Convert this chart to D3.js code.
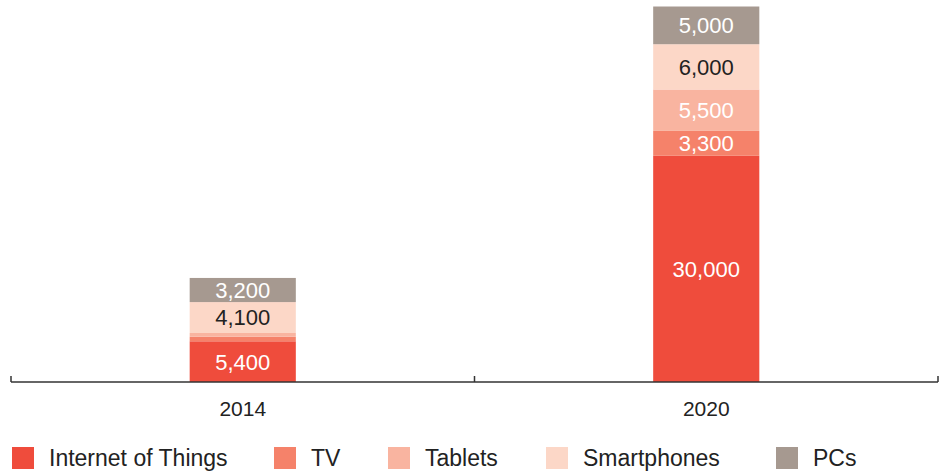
<!DOCTYPE html>
<html>
<head>
<meta charset="utf-8">
<script src="https://cdn.jsdelivr.net/npm/d3@7"></script>
<style>
  body { margin: 0; background: #fff; }
  svg { display: block; font-family: "Liberation Sans", Arial, sans-serif; }
</style>
</head>
<body>
<svg id="chart" width="949" height="475"></svg>
<script>
'use strict'

const years = ['2014', '2020']
const series = ['Internet of Things', 'TV', 'Tablets', 'Smartphones', 'PCs']
const iot = [5400, 30000]
const tv = [600, 3300]
const tablets = [500, 5500]
const smartphones = [4100, 6000]
const pcs = [3200, 5000]

const colors = ['#ef4c3c', '#f5826a', '#f9b4a0', '#fcd7c7', '#a69990']
const labelColors = ['#fff', '#fff', '#fff', '#222', '#fff']

const rows = years.map((y, i) => ({
  year: y,
  'Internet of Things': iot[i],
  'TV': tv[i],
  'Tablets': tablets[i],
  'Smartphones': smartphones[i],
  'PCs': pcs[i]
}))

const svg = d3.select('#chart')
const baseY = 382

const x = d3.scaleBand().domain(years).range([11, 938]).padding(0)
const barW = x.bandwidth() * 0.229
const y = d3.scaleLinear().domain([0, 50000]).range([baseY, 5])

const stack = d3.stack().keys(series)(rows)

const fmt = d3.format(',')

const layer = svg.selectAll('g.layer')
  .data(stack)
  .enter()
  .append('g')
  .attr('class', 'layer')

layer.selectAll('rect')
  .data((d) => d.map((v) => ({ v, key: d.key, i: d.index })))
  .enter()
  .append('rect')
  .attr('x', (d) => x(d.v.data.year) + x.bandwidth() / 2 - barW / 2)
  .attr('width', barW)
  .attr('y', (d) => y(d.v[1]))
  .attr('height', (d) => y(d.v[0]) - y(d.v[1]))
  .attr('fill', (d) => colors[d.i])

layer.selectAll('text')
  .data((d) => d.map((v) => ({ v, key: d.key, i: d.index })))
  .enter()
  .filter((d) => y(d.v[0]) - y(d.v[1]) > 15)
  .append('text')
  .attr('x', (d) => x(d.v.data.year) + x.bandwidth() / 2)
  .attr('y', (d) => (y(d.v[0]) + y(d.v[1])) / 2)
  .attr('dy', '0.36em')
  .attr('text-anchor', 'middle')
  .attr('font-size', 22)
  .attr('fill', (d) => labelColors[d.i])
  .text((d) => fmt(d.v[1] - d.v[0]))

// axis: baseline with ticks at the band edges
const axisG = svg.append('g').attr('transform', `translate(0,${baseY})`)
axisG.append('line')
  .attr('x1', 11).attr('x2', 938)
  .attr('stroke', '#333').attr('stroke-width', 1.5)
const edges = years.map((d) => x(d)).concat([x.range()[1]])
axisG.selectAll('line.tick')
  .data(edges)
  .enter()
  .append('line')
  .attr('class', 'tick')
  .attr('x1', (d) => d).attr('x2', (d) => d)
  .attr('y1', -6).attr('y2', 0)
  .attr('stroke', '#333').attr('stroke-width', 1.5)

const xAxis = svg.append('g')
  .attr('transform', `translate(0,${baseY})`)
  .call(d3.axisBottom(x).tickSize(0).tickPadding(19))
xAxis.select('.domain').remove()
xAxis.selectAll('text')
  .attr('font-size', 21)
  .attr('font-family', '"Liberation Sans", Arial, sans-serif')
  .attr('fill', '#222')

// legend
const legendX = [12, 274, 388, 546, 776]
const legend = svg.selectAll('g.legend')
  .data(series)
  .enter()
  .append('g')
  .attr('class', 'legend')
  .attr('transform', (d, i) => `translate(${legendX[i]},447)`)
legend.append('rect')
  .attr('width', 22).attr('height', 22)
  .attr('fill', (d, i) => colors[i])
legend.append('text')
  .attr('x', 37)
  .attr('y', 19)
  .attr('font-size', 23)
  .attr('fill', '#222')
  .text((d) => d)
</script>
</body>
</html>
